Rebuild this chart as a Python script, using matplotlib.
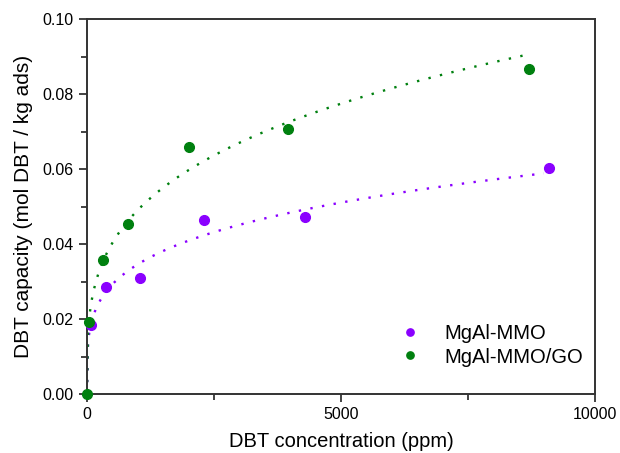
import numpy as np
import matplotlib
matplotlib.use("Agg")
import matplotlib.pyplot as plt
from matplotlib.ticker import MultipleLocator

plt.rcParams['font.family'] = ['Liberation Sans', 'DejaVu Sans']

# adsorption data
conc_mmo = [73, 374, 1043, 2303, 4291, 9094]
cap_mmo = [0.0185, 0.0285, 0.0309, 0.0463, 0.0472, 0.0604]
conc_go = [0, 40, 315, 807, 2008, 3957, 8701]
cap_go = [0.0, 0.0193, 0.0357, 0.0453, 0.0659, 0.0707, 0.0868]

purple = '#8a00ff'
green = '#00800f'


def freundlich_fit(c, q):
    # log-log linear fit, ignoring the zero point
    c = np.asarray(c, float)
    q = np.asarray(q, float)
    ok = (c > 0) & (q > 0)
    slope, icept = np.polyfit(np.log(c[ok]), np.log(q[ok]), 1)
    return np.exp(icept), slope


fig = plt.figure(figsize=(6.2, 4.53), dpi=100)
ax = fig.add_axes([0.1403, 0.1302, 0.8194, 0.8278])

for c, q, col, cmax in [(conc_mmo, cap_mmo, purple, conc_mmo[-1] - 100),
                         (conc_go, cap_go, green, conc_go[-1])]:
    k, m = freundlich_fit(c, q)
    cc = np.linspace(0, cmax, 400)
    ax.plot(cc, k * cc ** m, color=col, lw=1.7, linestyle=(0, (1, 4.0)),
            zorder=2)

ax.plot(conc_mmo, cap_mmo, 'o', color=purple, ms=7, label='MgAl-MMO',
        zorder=3, clip_on=False)
ax.plot(conc_go, cap_go, 'o', color=green, ms=7, label='MgAl-MMO/GO',
        zorder=3, clip_on=False)

ax.set_xlim(0, 10000)
ax.set_ylim(0, 0.1)
ax.set_xticks([0, 5000, 10000])
ax.set_yticks(np.arange(0, 0.101, 0.02))
ax.yaxis.set_major_formatter(plt.FormatStrFormatter('%.2f'))
ax.xaxis.set_minor_locator(MultipleLocator(2500))
ax.yaxis.set_minor_locator(MultipleLocator(0.01))
ax.tick_params(which='both', direction='out', width=1.2, labelsize=11.5,
               colors='#222222', labelcolor='black')
ax.tick_params(which='major', length=6)
ax.tick_params(which='minor', length=4)
for s in ax.spines.values():
    s.set_linewidth(1.4)
    s.set_color('#333333')

ax.set_xlabel('DBT concentration (ppm)', fontsize=14.5, labelpad=7)
ax.set_ylabel('DBT capacity (mol DBT / kg ads)', fontsize=15, labelpad=7)

ax.legend(loc='lower right', bbox_to_anchor=(1.012, 0.025), frameon=False,
          fontsize=14.5, markerscale=0.75, handletextpad=0.9,
          handlelength=1.6, labelspacing=0.2)

fig.savefig('out.png', dpi=100)
